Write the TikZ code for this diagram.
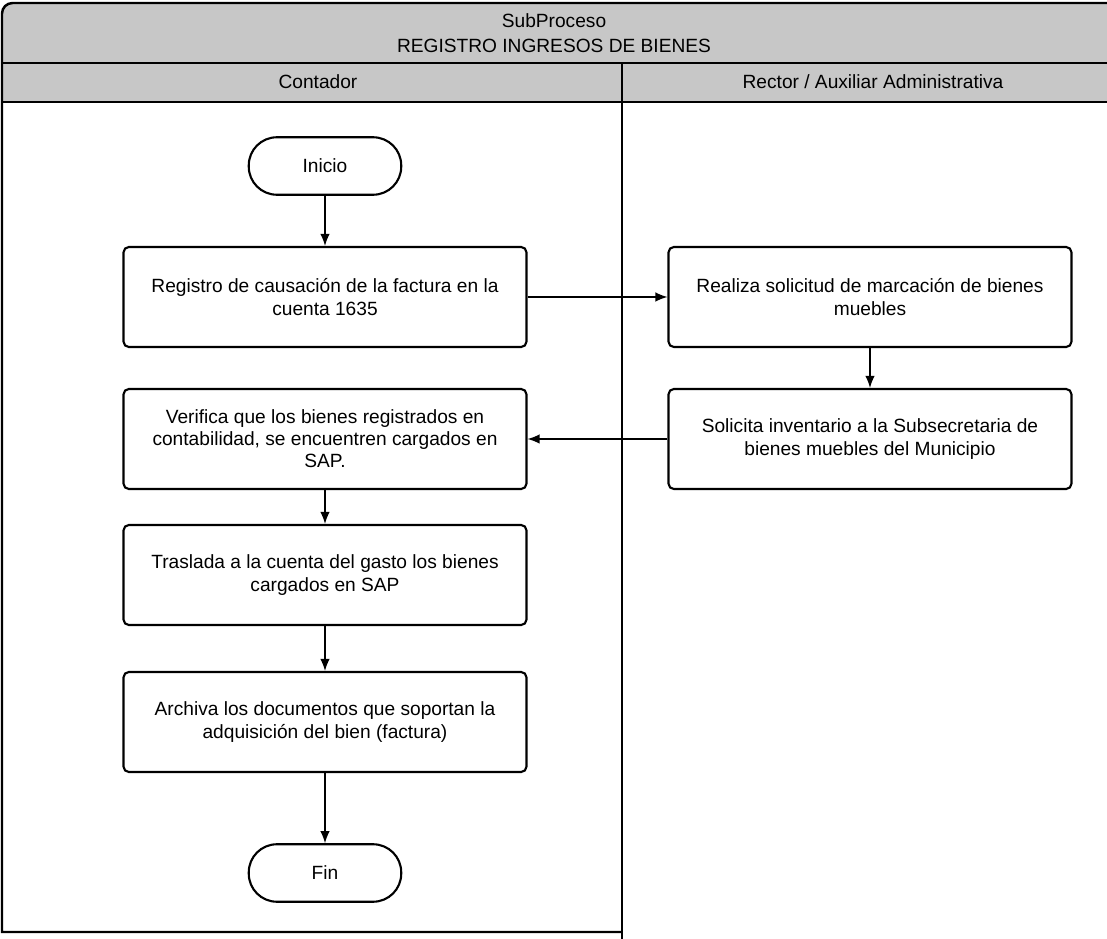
\documentclass[tikz,border=0pt]{standalone}
\usepackage{fontspec}
\setmainfont{Liberation Sans}
\usetikzlibrary{arrows.meta}
\begin{document}
\begin{tikzpicture}[x=.02cm,y=-.02cm,>={Latex[length=2.4mm,width=1.9mm]},
  font=\fontsize{10.9}{12.6}\selectfont,
  lane/.style={line width=1.4pt},
  task/.style={draw,line width=1.2pt,rounded corners=3pt,align=center,
    minimum width=8.06cm,minimum height=2cm,inner sep=2pt},
  term/.style={draw,line width=1.2pt,rounded corners=16pt,
    minimum width=3.05cm,minimum height=1.15cm},
  flow/.style={->,line width=.8pt}]
  \useasboundingbox (0,0) rectangle (1107,939);
  % title and lane headers
  \fill[black!22] (2,102) [rounded corners=6pt] -- (2,3) [sharp corners] -- (1107,3) -- (1107,102) -- cycle;
  \draw[lane] (1107,3) [rounded corners=6pt] -- (2,3) [sharp corners] -- (2,932) -- (622,932);
  \draw[lane] (2,63) -- (1107,63) (2,102) -- (1107,102) (622,63) -- (622,939);
  \node[align=center,font=\fontsize{10.9}{14.2}\selectfont] (titulo) at (554,33) {SubProceso\\REGISTRO INGRESOS DE BIENES};
  \node (contador) at (318,82) {Contador};
  \node (rector) at (873,82) {Rector / Auxiliar Administrativa};
  % activities
  \node[term] (inicio) at (325,166) {Inicio};
  \node[task] (registro) at (325,297) {Registro de causación de la factura en la\\cuenta 1635};
  \node[task] (verifica) at (325,439) {Verifica que los bienes registrados en\\contabilidad, se encuentren cargados en\\SAP.};
  \node[task] (traslada) at (325,575) {Traslada a la cuenta del gasto los bienes\\cargados en SAP};
  \node[task] (archiva) at (325,722) {Archiva los documentos que soportan la\\adquisición del bien (factura)};
  \node[term] (fin) at (325,873) {Fin};
  \node[task] (solicitud) at (870,297) {Realiza solicitud de marcación de bienes\\muebles};
  \node[task] (inventario) at (870,439) {Solicita inventario a la Subsecretaria de\\bienes muebles del Municipio};
  \draw[flow] (inicio) -- (registro);
  \draw[flow] (registro) -- (solicitud);
  \draw[flow] (solicitud) -- (inventario);
  \draw[flow] (inventario) -- (verifica);
  \draw[flow] (verifica) -- (traslada);
  \draw[flow] (traslada) -- (archiva);
  \draw[flow] (archiva) -- (fin);
\end{tikzpicture}
\end{document}
